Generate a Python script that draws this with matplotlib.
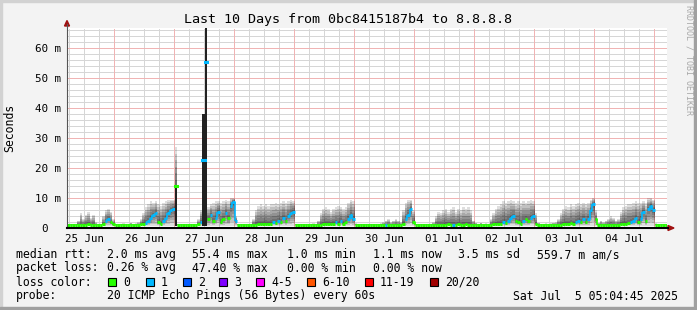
import numpy as np
import matplotlib.pyplot as plt
from matplotlib.collections import LineCollection
from matplotlib.patches import Rectangle, Polygon
from datetime import datetime, timedelta

W, H = 697, 310

# hourly values, first hour starts 10 days before Sat Jul 5 05:04:45 2025
median_ms = [
    1.0, 1.0, 1.0, 1.0, 1.1, 1.1, 1.0, 1.1, 1.2, 1.0, 1.1, 1.0, 1.0, 1.0, 1.2, 2.5, 3.0, 2.0, 1.2, 1.0, 1.0, 1.0, 1.0, 1.0,
    1.0, 1.0, 1.0, 1.0, 1.0, 1.2, 1.3, 1.8, 2.5, 3.5, 4.5, 5.0, 2.0, 1.5, 2.5, 3.5, 5.0, 6.0, 6.5, 14.0, 1.0, 1.0, 1.0, 1.0,
    1.0, 1.0, 1.0, 1.0, 1.2, 2.0, 22.8, 55.4, 3.0, 4.5, 2.5, 3.5, 5.5, 2.0, 3.0, 5.0, 3.5, 7.5, 8.8, 2.5, 1.0, 1.0, 1.0, 1.0,
    1.0, 1.0, 1.0, 1.1, 1.2, 1.3, 1.2, 1.5, 1.3, 1.5, 2.0, 1.8, 2.5, 2.0, 3.5, 2.5, 4.0, 5.0, 5.5, 1.0, 1.0, 1.0, 1.0, 1.0,
    1.0, 1.0, 1.0, 1.0, 1.0, 1.1, 1.2, 1.3, 1.5, 1.2, 1.5, 2.0, 1.5, 2.5, 1.5, 2.0, 3.0, 4.5, 3.0, 1.0, 1.0, 1.0, 1.0, 1.0,
    1.0, 1.0, 1.0, 1.0, 1.0, 1.0, 1.0, 1.0, 1.1, 1.0, 1.0, 1.1, 1.0, 1.0, 1.5, 3.0, 4.5, 6.5, 2.0, 1.0, 1.0, 1.0, 1.0, 1.0,
    1.0, 1.0, 1.0, 1.0, 1.0, 1.1, 1.0, 1.1, 1.2, 1.1, 1.0, 1.1, 1.2, 1.0, 1.1, 1.2, 1.1, 1.0, 1.0, 1.0, 1.0, 1.0, 1.0, 1.0,
    1.0, 1.0, 1.2, 1.3, 1.5, 1.5, 2.0, 1.8, 2.5, 3.5, 4.0, 2.5, 2.0, 1.5, 2.5, 3.0, 2.5, 3.5, 4.0, 1.5, 1.0, 1.0, 1.0, 1.0,
    1.0, 1.0, 1.0, 1.0, 1.0, 1.1, 1.2, 1.5, 1.3, 1.8, 1.5, 2.0, 2.5, 2.0, 3.0, 2.0, 3.0, 6.0, 8.0, 3.0, 1.0, 1.0, 1.0, 1.0,
    1.0, 1.0, 1.0, 1.0, 1.0, 1.2, 1.5, 1.3, 1.8, 2.0, 2.5, 3.5, 2.0, 3.0, 5.5, 2.5, 6.5, 7.5, 6.0, 1.0, 1.0, 1.0, 1.0, 1.0,
]
smoke_top_ms = [
    1.4, 1.4, 1.4, 1.5, 2.5, 5.0, 3.0, 4.5, 5.5, 3.5, 4.5, 2.0, 1.5, 1.5, 4.0, 6.0, 6.5, 5.5, 3.0, 1.5, 1.4, 1.4, 1.6, 1.4,
    1.5, 1.8, 1.4, 1.6, 2.0, 3.0, 5.0, 7.0, 8.0, 9.0, 8.5, 9.0, 8.0, 7.5, 8.5, 9.0, 9.5, 9.5, 9.5, 27.0, 1.4, 1.4, 1.4, 1.4,
    1.4, 1.4, 1.4, 1.4, 3.0, 6.0, 38.0, 66.7, 7.0, 8.0, 8.5, 9.0, 9.0, 8.5, 9.0, 9.5, 9.0, 10.0, 10.0, 4.0, 1.4, 1.4, 1.4, 1.4,
    1.4, 1.4, 3.0, 6.0, 7.5, 8.0, 7.5, 8.0, 7.5, 8.0, 8.0, 8.5, 8.0, 8.5, 9.0, 8.5, 9.0, 9.5, 9.0, 1.5, 1.4, 1.4, 1.4, 1.4,
    1.4, 1.4, 1.6, 1.4, 2.5, 5.0, 6.5, 7.0, 6.5, 5.5, 6.5, 7.0, 7.5, 7.0, 6.5, 7.0, 8.5, 9.5, 9.0, 1.6, 1.4, 1.4, 1.4, 1.4,
    1.4, 1.4, 1.5, 1.4, 1.4, 1.6, 2.0, 2.5, 3.0, 2.0, 2.5, 3.0, 2.5, 2.0, 6.0, 8.5, 9.5, 9.5, 6.0, 1.5, 1.4, 1.4, 1.4, 1.4,
    1.4, 1.5, 2.0, 4.0, 5.5, 5.0, 6.0, 6.5, 5.5, 6.5, 7.0, 5.5, 6.5, 6.0, 7.0, 6.5, 7.0, 6.0, 2.5, 1.8, 1.5, 1.8, 1.5, 1.6,
    1.5, 3.0, 5.0, 6.5, 7.5, 8.0, 9.0, 8.5, 9.0, 9.5, 9.0, 8.5, 9.0, 8.5, 9.0, 8.5, 9.0, 9.5, 9.0, 5.0, 1.8, 1.5, 1.4, 1.6,
    1.4, 1.6, 1.8, 2.0, 3.0, 5.0, 6.5, 7.5, 7.0, 8.0, 7.5, 8.0, 8.5, 8.0, 8.5, 8.0, 8.5, 9.5, 10.0, 6.0, 1.8, 2.5, 2.0, 2.5,
    3.0, 4.0, 3.5, 2.5, 3.0, 5.5, 7.0, 7.5, 8.0, 8.0, 8.5, 9.0, 8.5, 8.5, 9.0, 8.5, 10.0, 10.0, 9.5, 1.6, 1.4, 1.4, 1.4, 1.4,
]
# hours with one lost ping out of 20
loss_one_hours = [15, 16, 31, 32, 33, 34, 35, 38, 39, 40, 41, 42, 53, 54, 55, 57, 59, 60, 63, 65, 66, 67,
                  82, 84, 86, 88, 89, 90, 107, 109, 112, 113, 114, 127, 135, 136, 137, 154,
                  174, 176, 177, 178, 182, 185, 186, 203, 204, 206, 208, 209, 210,
                  225, 226, 227, 229, 230, 232, 233, 234]
# hours where the smoke is dense up to the given value
burst_hours = [43, 54, 55]
burst_dark_ms = [14.0, 38.0, 66.7]
ping_min_ms = 0.8

end_time = datetime(2025, 7, 5, 5, 4, 45)
y_ticks = [0, 10, 20, 30, 40, 50, 60]
y_tick_labels = ['0  ', '10 m', '20 m', '30 m', '40 m', '50 m', '60 m']

rtt_items = ['2.0 ms avg', '55.4 ms max', '1.0 ms min', '1.1 ms now', '3.5 ms sd', '559.7 m am/s']
loss_items = ['0.26 % avg', '47.40 % max', '0.00 % min', '0.00 % now']
loss_names = ['0', '1', '2', '3', '4-5', '6-10', '11-19', '20/20']
loss_colors = ['#26ff00', '#00b8ff', '#0059ff', '#7e00ff', '#ff00ff', '#ff5500', '#ff0000', '#a10000']

mono = 'DejaVu Sans Mono'
fig = plt.figure(figsize=(W / 100, H / 100), dpi=100)
fig.patch.set_facecolor('#f3f3f3')

ax = fig.add_axes([67 / W, (H - 228) / H, 600 / W, 200 / H])
ax.set_facecolor('white')
n = len(median_ms)
ax.set_xlim(0, n)
ax.set_ylim(0, 66.67)
for s in ax.spines.values():
    s.set_visible(False)

start = end_time - timedelta(hours=n)
first_mid = (datetime(2025, 6, 26) - start).total_seconds() / 3600

# grid, dotted
minor_kw = dict(color='#d6d6d6', lw=0.72, ls=(0, (1, 1)), zorder=1, antialiased=False)
major_kw = dict(color='#f0b4b4', lw=0.72, ls=(0, (1, 1)), zorder=1, antialiased=False)
for k in range(-4, 40):
    h = first_mid + 6 * k
    if 0 < h < n and k % 4 != 0:
        ax.axvline(h, **minor_kw)
for v in range(2, 67, 2):
    if v % 10:
        ax.axhline(v, **minor_kw)
for k in range(-1, 11):
    h = first_mid + 24 * k
    if 0 < h < n:
        ax.axvline(h, **major_kw)
for v in range(10, 61, 10):
    ax.axhline(v, **major_kw)

# smoke
med = np.array(median_ms)
top = np.array(smoke_top_ms)
edges = np.arange(n + 1)
layers = 6
for k in range(layers):
    f = 1 - k / layers
    lo = med - (med - ping_min_ms) * f
    hi = med + (top - med) * f
    ax.fill_between(edges, np.append(lo, lo[-1]), np.append(hi, hi[-1]),
                    step='post', color='black', alpha=0.13, lw=0, zorder=2)

# median coloured by loss, vertical joins only between same colour
cols = [loss_colors[1] if h in loss_one_hours else loss_colors[0] for h in range(n)]
horiz = [[(h, med[h]), (h + 1, med[h])] for h in range(n)]
vert, vcols = [], []
for h in range(1, n):
    if cols[h] == cols[h - 1] and h not in burst_hours and h - 1 not in burst_hours:
        vert.append([(h, med[h - 1]), (h, med[h])])
        vcols.append(cols[h])
ax.add_collection(LineCollection(vert, colors=vcols, lw=1.2, zorder=3))
ax.add_collection(LineCollection(horiz, colors=cols, lw=2.2, zorder=3))

# dense bursts drawn over the joins, median dot on top
for h, d in zip(burst_hours, burst_dark_ms):
    ax.fill_between([h, h + 1], ping_min_ms, d, color='#222222', lw=0, zorder=4)
    ax.plot([h, h + 1], [med[h], med[h]], color=cols[h], lw=2.2, zorder=5)

# ticks
noons = [first_mid - 12 + 24 * k for k in range(10)]
ax.set_xticks(noons, [(start + timedelta(hours=h)).strftime('%d %b') for h in noons])
ax.set_yticks(y_ticks, y_tick_labels)
ax.tick_params(length=0, labelsize=7.8, pad=4)
for t in ax.get_xticklabels() + ax.get_yticklabels():
    t.set_family(mono)

# overlay in pixel coordinates
ov = fig.add_axes([0, 0, 1, 1], zorder=5)
ov.set_xlim(0, W)
ov.set_ylim(H, 0)
ov.axis('off')
ov.patch.set_visible(False)

ov.plot([67, 67], [228, 24], color='#555555', lw=0.8)
ov.plot([67, 668], [228, 228], color='black', lw=1.5)
ov.add_patch(Polygon([(64.5, 26), (69.5, 26), (67, 20.5)], color='#a01010'))
ov.add_patch(Polygon([(668, 225.5), (668, 230.5), (674, 228)], color='#a01010'))

# border
ov.add_patch(Rectangle((0, 0), W, 2, color='#d2d2d2'))
ov.add_patch(Rectangle((0, 0), 2, H, color='#d2d2d2'))
ov.add_patch(Rectangle((0, H - 3), W, 3, color='#a0a0a0'))
ov.add_patch(Rectangle((W - 3, 0), 3, H, color='#a0a0a0'))

ov.text(348, 19, 'Last 10 Days from 0bc8415187b4 to 8.8.8.8', family=mono, fontsize=9.6,
        ha='center', va='center')
ov.text(10, 128, 'Seconds', family=mono, fontsize=8.3, rotation=90, ha='center', va='center')
ov.text(689, 60, 'RRDTOOL / TOBI OETIKER', family=mono, fontsize=6.0, rotation=-90,
        ha='center', va='center', color='#a8a8a8')

fs = 8.3
ov.text(16, 254.5, 'median rtt:', family=mono, fontsize=fs, va='center')
for x, s in zip([107, 192, 287, 373, 458, 537], rtt_items):
    ov.text(x, 254.5, s, family=mono, fontsize=fs, va='center')
ov.text(16, 268, 'packet loss:', family=mono, fontsize=fs, va='center')
for x, s in zip([107, 192, 287, 373], loss_items):
    ov.text(x, 268, s, family=mono, fontsize=fs, va='center')
ov.text(16, 282, 'loss color:', family=mono, fontsize=fs, va='center')
for x, name, c in zip([108, 146, 183, 219, 256, 307, 365, 430], loss_names, loss_colors):
    ov.add_patch(Rectangle((x, 278), 8, 8, facecolor=c, edgecolor='black', lw=0.8))
    ov.text(x + 15, 282, name, family=mono, fontsize=fs, va='center')
ov.text(16, 296, 'probe:', family=mono, fontsize=fs, va='center')
ov.text(107, 296, '20 ICMP Echo Pings (56 Bytes) every 60s', family=mono, fontsize=fs, va='center')
ov.text(513, 296, 'Sat Jul  5 05:04:45 2025', family=mono, fontsize=fs, va='center')

fig.savefig('out.png', dpi=100, facecolor=fig.get_facecolor())
